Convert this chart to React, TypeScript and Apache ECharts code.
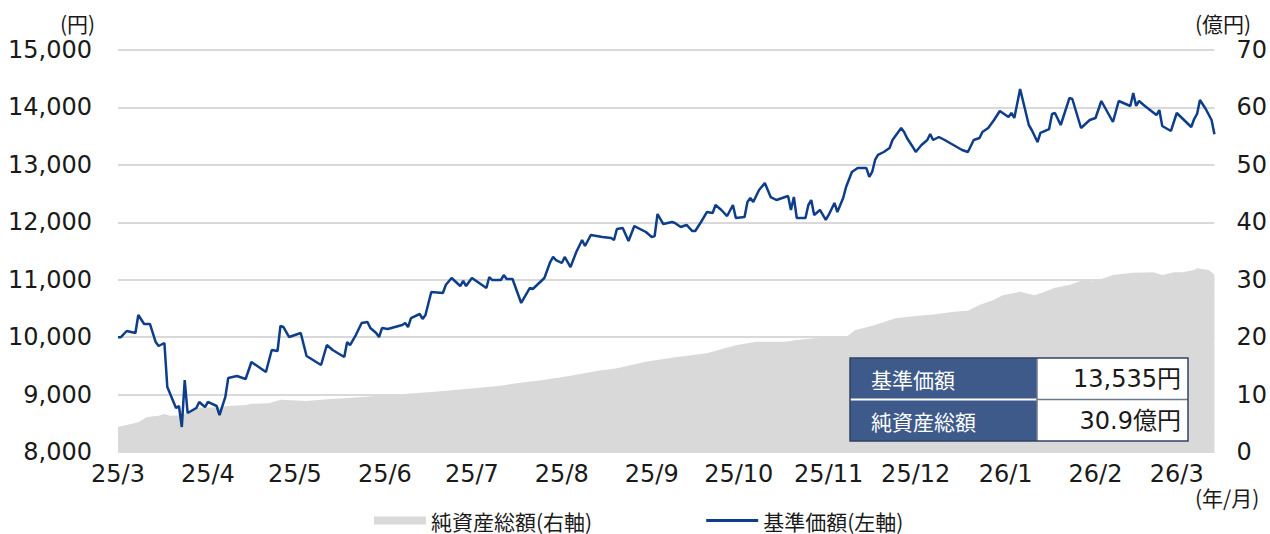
import React, { useEffect, useRef } from "react";
import * as echarts from "echarts";

const START_DATE = "2025-03-01";
const END_DATE = "2026-03-14";

const priceDates = [
  "2025-03-01","2025-03-02","2025-03-04","2025-03-07","2025-03-08","2025-03-10","2025-03-12","2025-03-14","2025-03-15","2025-03-17",
  "2025-03-18","2025-03-21","2025-03-22","2025-03-23","2025-03-24","2025-03-25","2025-03-28","2025-03-29","2025-03-31","2025-04-01",
  "2025-04-04","2025-04-05","2025-04-07","2025-04-08","2025-04-11","2025-04-14","2025-04-16","2025-04-21","2025-04-23","2025-04-25",
  "2025-04-26","2025-04-27","2025-04-29","2025-05-03","2025-05-05","2025-05-10","2025-05-12","2025-05-14","2025-05-18","2025-05-19",
  "2025-05-20","2025-05-22","2025-05-24","2025-05-26","2025-05-27","2025-05-29","2025-05-30","2025-05-31","2025-06-02","2025-06-07",
  "2025-06-08","2025-06-09","2025-06-10","2025-06-13","2025-06-14","2025-06-15","2025-06-17","2025-06-21","2025-06-22","2025-06-24",
  "2025-06-27","2025-06-28","2025-06-29","2025-07-01","2025-07-06","2025-07-07","2025-07-08","2025-07-11","2025-07-12","2025-07-13",
  "2025-07-15","2025-07-18","2025-07-21","2025-07-22","2025-07-26","2025-07-28","2025-07-29","2025-07-30","2025-08-01","2025-08-02",
  "2025-08-04","2025-08-06","2025-08-08","2025-08-09","2025-08-11","2025-08-15","2025-08-18","2025-08-19","2025-08-20","2025-08-22",
  "2025-08-24","2025-08-26","2025-08-30","2025-09-01","2025-09-02","2025-09-03","2025-09-05","2025-09-08","2025-09-09","2025-09-11",
  "2025-09-13","2025-09-15","2025-09-16","2025-09-18","2025-09-20","2025-09-22","2025-09-23","2025-09-25","2025-09-27","2025-09-29",
  "2025-09-30","2025-10-03","2025-10-04","2025-10-05","2025-10-06","2025-10-08","2025-10-10","2025-10-11","2025-10-12","2025-10-14",
  "2025-10-18","2025-10-19","2025-10-20","2025-10-21","2025-10-24","2025-10-25","2025-10-26","2025-10-27","2025-10-29","2025-10-31",
  "2025-11-01","2025-11-03","2025-11-04","2025-11-06","2025-11-07","2025-11-09","2025-11-11","2025-11-14","2025-11-15","2025-11-16",
  "2025-11-17","2025-11-18","2025-11-20","2025-11-22","2025-11-23","2025-11-26","2025-11-27","2025-11-28","2025-11-30","2025-12-01",
  "2025-12-03","2025-12-05","2025-12-06","2025-12-07","2025-12-09","2025-12-11","2025-12-14","2025-12-17","2025-12-19","2025-12-21",
  "2025-12-23","2025-12-24","2025-12-26","2025-12-27","2025-12-28","2025-12-30","2026-01-02","2026-01-03","2026-01-04","2026-01-06",
  "2026-01-09","2026-01-10","2026-01-12","2026-01-13","2026-01-16","2026-01-17","2026-01-18","2026-01-20","2026-01-23","2026-01-24",
  "2026-01-27","2026-01-30","2026-02-01","2026-02-03","2026-02-07","2026-02-09","2026-02-13","2026-02-14","2026-02-15","2026-02-16",
  "2026-02-18","2026-02-22","2026-02-23","2026-02-24","2026-02-27","2026-03-01","2026-03-06","2026-03-07","2026-03-08","2026-03-09",
  "2026-03-11","2026-03-13","2026-03-14"
];

const priceValues = [
  10000,10000,10107,10072,10386,10229,10229,9915,9846,9898,
  9132,8766,8801,8435,9254,8679,8766,8871,8783,8871,
  8801,8644,8958,9289,9324,9271,9567,9393,9776,9759,
  10194,10177,10002,10072,9672,9515,9863,9776,9654,9915,
  9863,10037,10246,10263,10159,10072,10002,10159,10142,10211,
  10246,10176,10333,10403,10316,10386,10786,10769,10908,11030,
  10890,10978,10890,11030,10856,11047,10995,10995,11082,11013,
  11013,10595,10856,10838,11030,11308,11396,11343,11291,11396,
  11221,11483,11692,11587,11779,11744,11726,11692,11883,11900,
  11674,11935,11831,11744,11761,12144,11970,12005,11987,11918,
  11953,11848,11848,12005,12179,12162,12301,12214,12109,12301,
  12075,12092,12353,12423,12353,12562,12684,12562,12440,12388,
  12458,12214,12440,12075,12075,12301,12388,12127,12214,12040,
  12127,12336,12179,12423,12614,12876,12945,12945,12789,12876,
  13085,13172,13224,13294,13433,13642,13572,13468,13311,13224,
  13346,13433,13537,13433,13485,13433,13346,13259,13224,13433,
  13468,13572,13642,13711,13781,13938,13833,13903,13816,14321,
  13694,13607,13398,13555,13624,13886,13903,13694,14164,14147,
  13642,13781,13816,14112,13746,14112,14025,14251,14025,14112,
  14025,13868,13955,13677,13590,13903,13659,13798,13886,14129,
  13973,13781,13535
];

const assetDates = [
  "2025-03-01","2025-03-04","2025-03-08","2025-03-11","2025-03-15","2025-03-17","2025-03-19","2025-03-23","2025-03-28","2025-04-05",
  "2025-04-08","2025-04-14","2025-04-16","2025-04-22","2025-04-26","2025-05-05","2025-05-12","2025-05-19","2025-05-30","2025-06-16",
  "2025-06-30","2025-07-10","2025-07-17","2025-07-25","2025-08-03","2025-08-13","2025-08-20","2025-08-30","2025-09-09","2025-09-20",
  "2025-09-30","2025-10-07","2025-10-17","2025-10-21","2025-10-27","2025-11-07","2025-11-10","2025-11-17","2025-11-24","2025-12-01",
  "2025-12-08","2025-12-14","2025-12-19","2025-12-23","2025-12-28","2025-12-31","2026-01-06","2026-01-11","2026-01-14","2026-01-18",
  "2026-01-23","2026-01-28","2026-01-31","2026-02-04","2026-02-07","2026-02-14","2026-02-21","2026-02-24","2026-02-28","2026-03-03",
  "2026-03-07","2026-03-08","2026-03-12","2026-03-14"
];

const assetValues = [
  4.4,4.7,5.2,6.1,6.3,6.6,6.3,6.4,7.7,7.8,
  8.0,8.2,8.4,8.5,9.1,8.9,9.2,9.4,9.8,10.4,
  11.0,11.5,12.0,12.5,13.2,14.1,14.6,15.7,16.5,17.2,
  18.6,19.2,19.2,19.5,19.8,20.0,21.2,22.1,23.3,23.7,
  24.0,24.4,24.6,25.6,26.5,27.3,27.9,27.3,27.8,28.6,
  29.1,30.0,29.7,30.3,30.8,31.2,31.3,30.8,31.3,31.3,
  31.7,32.0,31.7,30.9
];

const seriesNames = ["純資産総額(右軸)", "基準価額(左軸)"];
const tableLabels = ["基準価額", "純資産総額"];
const tableValues = ["13,535円", "30.9億円"];
const unitLabels = ["(円)", "(億円)", "(年/月)"];

function buildCategories(start: string, end: string): string[] {
  const out: string[] = [];
  const d = new Date(start + "T00:00:00Z");
  const e = new Date(end + "T00:00:00Z");
  while (d.getTime() <= e.getTime()) {
    out.push(d.toISOString().slice(0, 10));
    d.setUTCDate(d.getUTCDate() + 1);
  }
  return out;
}

const FONT = "'DejaVu Sans', 'Noto Sans CJK JP', sans-serif";
const JFONT = "'Noto Sans CJK JP', 'DejaVu Sans', sans-serif";
const TEXT = "#1a1a1a";
const BLUE = "#0e3d8a";
const GRAY = "#d9d9d9";
const TZ = 100;

export default function App() {
  const ref = useRef<HTMLDivElement>(null);
  useEffect(() => {
    document.body.style.margin = "0";
    if (!ref.current) return;
    const chart = echarts.init(ref.current, undefined, { renderer: "svg" });
    const categories = buildCategories(START_DATE, END_DATE);
    const option: any = {
      animation: false,
      grid: { left: 118, right: 48, top: 50, bottom: 82 },
      xAxis: {
        type: "category",
        data: categories,
        boundaryGap: false,
        axisLine: { show: false },
        axisTick: { show: false },
        splitLine: { show: false },
        axisLabel: {
          interval: (_i: number, v: string) => v.endsWith("-01"),
          formatter: (v: string) => `${v.slice(2, 4)}/${parseInt(v.slice(5, 7), 10)}`,
          fontSize: 24,
          fontFamily: FONT,
          color: TEXT,
          margin: 10,
        },
      },
      yAxis: [
        {
          type: "value",
          min: 8000,
          max: 15000,
          interval: 1000,
          position: "left",
          axisLine: { show: false },
          axisTick: { show: false },
          splitLine: { lineStyle: { color: GRAY, width: 2 } },
          axisLabel: {
            formatter: (v: number) => v.toLocaleString("en-US"),
            fontSize: 24,
            fontFamily: FONT,
            color: TEXT,
            margin: 26,
          },
        },
        {
          type: "value",
          min: 0,
          max: 70,
          interval: 10,
          position: "right",
          axisLine: { show: false },
          axisTick: { show: false },
          splitLine: { show: false },
          axisLabel: {
            fontSize: 24,
            fontFamily: FONT,
            color: TEXT,
            margin: 22,
          },
        },
      ],
      legend: {
        left: 369,
        top: 505,
        itemGap: 114,
        itemWidth: 52,
        itemHeight: 8,
        textStyle: { fontSize: 21, fontFamily: JFONT, color: TEXT },
        data: [
          { name: seriesNames[0], icon: "rect" },
          { name: seriesNames[1], icon: "path://M0,0H52V2.8H0Z" },
        ],
      },
      series: [
        {
          type: "line",
          name: seriesNames[0],
          yAxisIndex: 1,
          data: assetDates.map((d, i) => [d, assetValues[i]]),
          symbol: "none",
          lineStyle: { width: 0, color: GRAY },
          itemStyle: { color: GRAY },
          areaStyle: { color: GRAY, opacity: 1 },
          z: 1,
        },
        {
          type: "line",
          name: seriesNames[1],
          yAxisIndex: 0,
          data: priceDates.map((d, i) => [d, priceValues[i]]),
          symbol: "none",
          lineStyle: { width: 2.5, color: BLUE },
          itemStyle: { color: BLUE },
          z: 3,
        },
      ],
      graphic: [
        { type: "text", left: 60, top: 12, style: { text: unitLabels[0], fontSize: 21, fontFamily: JFONT, fill: TEXT } },
        { type: "text", left: 1195, top: 12, style: { text: unitLabels[1], fontSize: 21, fontFamily: JFONT, fill: TEXT } },
        { type: "text", left: 1195, top: 486, style: { text: unitLabels[2], fontSize: 21, fontFamily: JFONT, fill: TEXT } },
        { type: "rect", z: TZ, shape: { x: 850, y: 358, width: 187, height: 83 }, style: { fill: "#3d5a8b" } },
        { type: "rect", z: TZ, shape: { x: 1037, y: 358, width: 151, height: 83 }, style: { fill: "#ffffff" } },
        { type: "line", z: TZ + 1, shape: { x1: 850, y1: 399.5, x2: 1037, y2: 399.5 }, style: { stroke: "#ffffff", lineWidth: 2 } },
        { type: "line", z: TZ + 1, shape: { x1: 1037, y1: 399.5, x2: 1188, y2: 399.5 }, style: { stroke: "#6b7a90", lineWidth: 1.5 } },
        { type: "line", z: TZ + 1, shape: { x1: 1037, y1: 358, x2: 1037, y2: 441 }, style: { stroke: "#6b7a90", lineWidth: 1.5 } },
        { type: "rect", z: TZ + 2, shape: { x: 850, y: 358, width: 338, height: 83 }, style: { fill: "none", stroke: "#2f4263", lineWidth: 1.5 } },
        { type: "text", z: TZ + 3, x: 871, y: 379, style: { text: tableLabels[0], fontSize: 21, fontFamily: JFONT, fill: "#ffffff", verticalAlign: "middle" } },
        { type: "text", z: TZ + 3, x: 871, y: 421, style: { text: tableLabels[1], fontSize: 21, fontFamily: JFONT, fill: "#ffffff", verticalAlign: "middle" } },
        { type: "text", z: TZ + 3, x: 1181, y: 379, style: { text: tableValues[0], fontSize: 24, fontFamily: FONT, fill: TEXT, align: "right", verticalAlign: "middle" } },
        { type: "text", z: TZ + 3, x: 1181, y: 421, style: { text: tableValues[1], fontSize: 24, fontFamily: FONT, fill: TEXT, align: "right", verticalAlign: "middle" } },
      ],
    };
    chart.setOption(option);
    return () => chart.dispose();
  }, []);
  return <div ref={ref} style={{ width: 1270, height: 534 }} />;
}
